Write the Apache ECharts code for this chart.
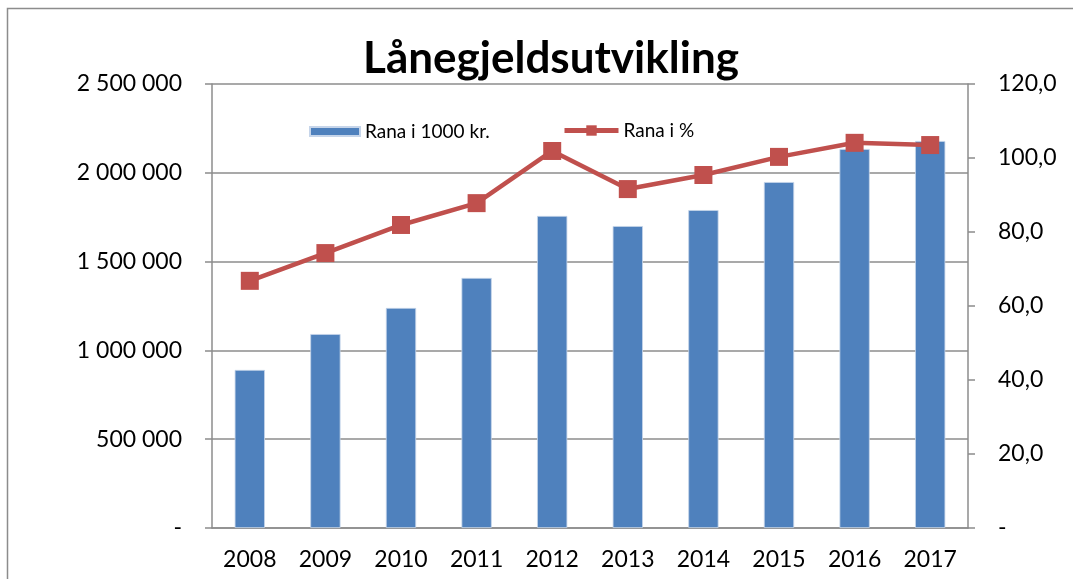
<!DOCTYPE html>
<html>
<head>
<meta charset="utf-8">
<script src="https://cdn.jsdelivr.net/npm/echarts@6/dist/echarts.min.js"></script>
<style>
  html, body { margin: 0; padding: 0; background: #fff; }
  #main { width: 1073px; height: 579px; }
</style>
</head>
<body>
<div id="main"></div>
<script>
// data
var years = ['2008', '2009', '2010', '2011', '2012', '2013', '2014', '2015', '2016', '2017'];
var gjeld = [890000, 1092000, 1239000, 1408000, 1757000, 1700000, 1790000, 1948000, 2134000, 2179000];
var prosent = [66.8, 74.3, 81.9, 87.8, 101.9, 91.6, 95.4, 100.3, 104.1, 103.5];

var chart = echarts.init(document.getElementById('main'));

function fmtKr(v) {
  if (v === 0) return '-';
  return String(v).replace(/\B(?=(\d{3})+(?!\d))/g, ' ');
}
function fmtPst(v) {
  if (v === 0) return '-';
  return v.toFixed(1).replace('.', ',');
}

var grey = '#8c8c8c';
var red = '#c0504d';

var option = {
  animation: false,
  textStyle: { fontFamily: 'Lato' },
  title: {
    text: 'Lånegjeldsutvikling',
    left: 546,
    textAlign: 'center',
    top: 32,
    textStyle: { fontSize: 44, fontWeight: 'bold', color: '#000', fontFamily: 'Lato' }
  },
  graphic: [{
    type: 'rect',
    shape: { x: 7.5, y: 8.5, width: 1100, height: 600 },
    style: { fill: 'none', stroke: grey, lineWidth: 1.5 },
    silent: true
  }],
  legend: [{
    top: 117,
    left: 304,
    itemWidth: 50,
    itemHeight: 9,
    itemGap: 6,
    textStyle: { fontSize: 19, color: '#000', fontFamily: 'Lato' },
    data: [{ name: 'Rana i 1000 kr.', icon: 'rect' }]
  }, {
    top: 116,
    left: 557,
    itemWidth: 54,
    itemHeight: 13,
    itemGap: 5,
    lineStyle: { width: 5, color: red },
    itemStyle: { color: red },
    textStyle: { fontSize: 19, color: '#000', fontFamily: 'Lato' },
    data: [{ name: 'Rana i %' }]
  }],
  grid: { left: 212, right: 105, top: 84, bottom: 51 },
  xAxis: {
    type: 'category',
    data: years,
    axisLine: { lineStyle: { color: grey, width: 1.5 } },
    axisTick: { length: 7, lineStyle: { color: grey, width: 1.5 } },
    axisLabel: { fontSize: 23, color: '#000', margin: 20 }
  },
  yAxis: [{
    type: 'value',
    min: 0, max: 2500000, interval: 500000,
    axisLine: { show: true, lineStyle: { color: grey, width: 1.5 } },
    axisTick: { show: true, length: 7, lineStyle: { color: grey, width: 1.5 } },
    splitLine: { lineStyle: { color: grey, width: 1.5 } },
    axisLabel: { fontSize: 23, color: '#000', margin: 30, formatter: fmtKr }
  }, {
    type: 'value',
    min: 0, max: 120, interval: 20,
    position: 'right',
    axisLine: { show: true, lineStyle: { color: grey, width: 1.5 } },
    axisTick: { show: true, length: 7, lineStyle: { color: grey, width: 1.5 } },
    splitLine: { show: false },
    axisLabel: { fontSize: 23, color: '#000', margin: 30, formatter: fmtPst }
  }],
  series: [{
    name: 'Rana i 1000 kr.',
    type: 'bar',
    yAxisIndex: 0,
    barWidth: '40%',
    itemStyle: { color: '#4f81bd', borderColor: '#c6d5ea', borderWidth: 0.8 },
    data: gjeld
  }, {
    name: 'Rana i %',
    type: 'line',
    yAxisIndex: 1,
    symbol: 'rect',
    symbolSize: 18,
    lineStyle: { color: red, width: 4.5 },
    itemStyle: { color: red },
    data: prosent
  }]
};

chart.setOption(option);
</script>
</body>
</html>
